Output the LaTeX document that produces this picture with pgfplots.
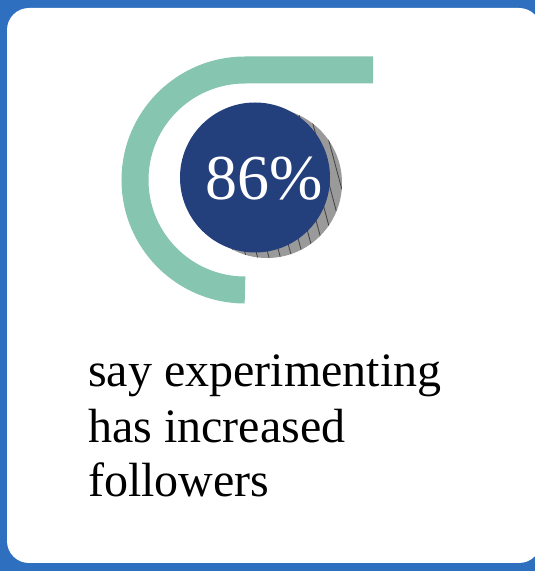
\documentclass[border=0pt]{standalone}
\usepackage{pgfplots}
\pgfplotsset{compat=1.18}
\usepackage{fontspec}
\setmainfont{Liberation Serif}
\usetikzlibrary{patterns.meta}
\definecolor{bgblue}{HTML}{2F6FC0}
\definecolor{arcgreen}{HTML}{86C6B1}
\definecolor{darkblue}{HTML}{233F7C}
\definecolor{ringgray}{HTML}{9A9A9A}
\begin{document}
\begin{tikzpicture}
\begin{axis}[
  width=535pt, height=571pt, scale only axis,
  xmin=0, xmax=535, ymin=0, ymax=571,
  hide axis, clip=false,
]
% background and card
\fill[bgblue] (axis cs:0,0) rectangle (axis cs:535,571);
\begin{scope}
\clip (axis cs:0,0) rectangle (axis cs:535,571);
\fill[white, rounded corners=22pt] (axis cs:7,8) rectangle (axis cs:541,563);
\end{scope}
% progress arc
\draw[arcgreen, line width=27pt] (axis cs:373,501) -- (axis cs:245,501) arc[start angle=90, end angle=270, radius=110pt];
% gray hatched shadow circle
\fill[ringgray] (axis cs:267,388) circle[radius=75pt];
\fill[pattern={Lines[angle=-75, distance=11pt, line width=0.8pt]}, pattern color=black!75] (axis cs:267,388) circle[radius=75pt];
% main circle with value
\fill[darkblue] (axis cs:255,393.5) circle[radius=75pt];
\addplot[only marks, mark=none, nodes near coords={86\%}, nodes near coords style={white, anchor=center, font=\fontsize{64}{64}\selectfont}] coordinates {(264,392)};
% caption
\node[anchor=base west, inner sep=0pt, font=\fontsize{48}{55}\selectfont] at (axis cs:88,184) {say experimenting};
\node[anchor=base west, inner sep=0pt, font=\fontsize{48}{55}\selectfont] at (axis cs:88,128) {has increased};
\node[anchor=base west, inner sep=0pt, font=\fontsize{48}{55}\selectfont] at (axis cs:88,74) {followers};
\end{axis}
\end{tikzpicture}
\end{document}
